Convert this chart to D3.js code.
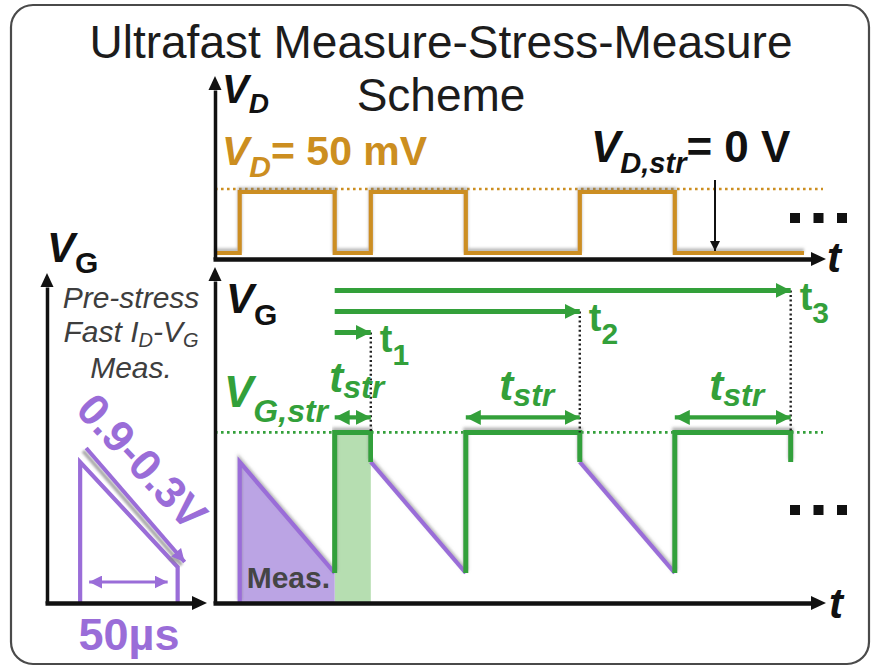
<!DOCTYPE html>
<html>
<head>
<meta charset="utf-8">
<script src="https://cdn.jsdelivr.net/npm/d3@7"></script>
<style>
  html, body { margin: 0; padding: 0; background: #fff; }
  svg { display: block; font-family: "Liberation Sans", Arial, Helvetica, sans-serif; }
</style>
</head>
<body>
<svg id="chart" width="875" height="669"></svg>
<script>
// Ultrafast measure-stress-measure (MSM) timing scheme.
// Time is in µs (schematic), drain bias in mV, gate bias in V.
const measWindows    = [[13, 63], [82, 132], [192, 242]];  // fast I_D-V_G sweeps
const stressWindows  = [[63, 82], [132, 192], [242, 303]]; // gate stress intervals
const stressLabels   = ["1", "2", "3"];                    // cumulative stress times t1..t3
const vdMeas         = 50;          // mV, drain bias while measuring
const vdStress       = 0;           // mV, drain bias while stressing
const vgSweep        = [0.9, 0.3];  // V, gate sweep start / end
const vgStress       = 1.06;        // V, stress level (schematic)
const preStressSweep = [17, 67];    // µs, pre-stress sweep (50 µs)
const timeDomain     = [0, 320];    // µs shown on the main time axes
const vdTraceEnd     = 310;         // µs, end of the drawn V_D trace

const C = {
  orange: "#cc8e20", green: "#33a03a", greenBand: "#b6deb1",
  purple: "#9a6dd8", purpleFill: "#bba4e4", ink: "#111", gray: "#3e3e3e"
};

const svg = d3.select("#chart");
const defs = svg.append("defs");

// soft shadow used on the traces and axes
const sh = defs.append("filter").attr("id", "soft").attr("x", "-5%").attr("y", "-30%").attr("width", "110%").attr("height", "160%");
sh.append("feDropShadow").attr("dx", 0).attr("dy", -2.5).attr("stdDeviation", 1.4)
  .attr("flood-color", "#777").attr("flood-opacity", 0.55);
const sh2 = defs.append("filter").attr("id", "side").attr("x", "-20%").attr("y", "-20%").attr("width", "140%").attr("height", "140%");
sh2.append("feDropShadow").attr("dx", -3).attr("dy", 3).attr("stdDeviation", 1)
  .attr("flood-color", "#888").attr("flood-opacity", 0.7);

function marker(id, color, len, half) {
  defs.append("marker").attr("id", id)
    .attr("markerUnits", "userSpaceOnUse")
    .attr("viewBox", `0 ${-half} ${len} ${2 * half}`)
    .attr("refX", len).attr("refY", 0)
    .attr("markerWidth", len).attr("markerHeight", 2 * half)
    .attr("orient", "auto-start-reverse")
    .append("path").attr("d", `M0,${-half}L${len},0L0,${half}Z`).attr("fill", color);
}
marker("arG", C.green, 15, 7.5);
marker("arP", C.purple, 13, 6.5);
marker("arK", C.ink, 10, 5);

// scales
const x  = d3.scaleLinear().domain(timeDomain).range([215, 823]);
const xL = d3.scaleLinear().domain([0, 80]).range([47, 203]);
const yD = d3.scaleLinear().domain([0, 50]).range([253, 192]);
const yG = d3.scaleLinear().domain([vgSweep[1], vgSweep[0]]).range([573, 462]);
const floorY = 603, topAxisY = 259;

// outer frame
svg.append("rect").attr("x", 11).attr("y", 5).attr("width", 858).attr("height", 659)
  .attr("rx", 22).attr("fill", "none").attr("stroke", "#4a4a4a").attr("stroke-width", 2.2);

// rich text helper: parts = [{t, sub, it}]
function rich(g, px, py, parts, o) {
  const t = g.append("text").attr("x", px).attr("y", py)
    .attr("font-size", o.size).attr("fill", o.fill)
    .attr("font-weight", o.weight || "bold")
    .attr("text-anchor", o.anchor || "start");
  if (o.italic) t.attr("font-style", "italic");
  let shift = 0;
  parts.forEach(p => {
    const ts = t.append("tspan").text(p.t);
    const target = p.sub ? o.subDy : 0;
    if (target - shift !== 0) ts.attr("dy", target - shift);
    shift = target;
    if (p.sub) ts.attr("font-size", o.subSize);
    if (p.it) ts.attr("font-style", "italic");
  });
  return t;
}

function head(g, tx, ty, angleDeg, len = 15, half = 7) {
  g.append("path")
    .attr("d", `M0,0L${-len},${-half}L${-len},${half}Z`)
    .attr("transform", `translate(${tx},${ty}) rotate(${angleDeg})`)
    .attr("fill", C.ink);
}

function axisLine(g, axis, transform, width) {
  g.append("g").attr("transform", transform)
    .call(axis.tickValues([]).tickSizeOuter(0))
    .call(s => s.select(".domain").attr("stroke", C.ink).attr("stroke-width", width));
}

// ---------- title ----------
svg.append("text").attr("x", 441).attr("y", 58).attr("text-anchor", "middle")
  .attr("font-size", 46).attr("fill", "#1c1c1c").text("Ultrafast Measure-Stress-Measure");
svg.append("text").attr("x", 441).attr("y", 111).attr("text-anchor", "middle")
  .attr("font-size", 46).attr("fill", "#1c1c1c").text("Scheme");

// ---------- drain panel ----------
const gD = svg.append("g");
gD.append("line").attr("x1", x(timeDomain[0])).attr("x2", x(timeDomain[1]))
  .attr("y1", yD(vdMeas) - 3).attr("y2", yD(vdMeas) - 3)
  .attr("stroke", C.orange).attr("stroke-width", 2.6).attr("stroke-dasharray", "2.6,3.4");

const vdPts = [[timeDomain[0], vdStress]];
measWindows.forEach(([s, e]) => vdPts.push([s, vdStress], [s, vdMeas], [e, vdMeas], [e, vdStress]));
vdPts.push([vdTraceEnd, vdStress]);
gD.append("path").attr("d", d3.line().x(d => x(d[0])).y(d => yD(d[1]))(vdPts))
  .attr("fill", "none").attr("stroke", C.orange).attr("stroke-width", 4.2)
  .attr("stroke-linejoin", "miter").attr("filter", "url(#soft)");

const axTopT = d3.scaleLinear().domain([0, 1]).range([213, 812]);
const axTopV = d3.scaleLinear().domain([0, 1]).range([topAxisY, 90]);
axisLine(gD, d3.axisBottom(axTopT), `translate(0,${topAxisY})`, 4.5);
head(gD, 826, topAxisY, 0);
axisLine(gD, d3.axisLeft(axTopV), `translate(215,0)`, 3.5);
head(gD, 215, 76, -90, 14, 6.5);

rich(gD, 222, 103, [{t: "V", it: true}, {t: "D", sub: true, it: true}],
  {size: 40, subSize: 28, subDy: 10, fill: C.ink});
rich(gD, 222, 165, [{t: "V", it: true}, {t: "D", sub: true, it: true}, {t: "= 50 mV"}],
  {size: 41, subSize: 30, subDy: 12, fill: C.orange});
rich(gD, 591, 162, [{t: "V", it: true}, {t: "D,str", sub: true, it: true}, {t: "= 0 V"}],
  {size: 44, subSize: 29, subDy: 11, fill: C.ink});
gD.append("line").attr("x1", 715).attr("x2", 715).attr("y1", 180).attr("y2", yD(vdStress) - 2)
  .attr("stroke", C.ink).attr("stroke-width", 2).attr("marker-end", "url(#arK)");
rich(gD, 827, 272, [{t: "t"}], {size: 42, fill: C.ink, italic: true});

// ellipsis marks after the last cycle
const dotsAt = [0, 1, 2];
gD.selectAll("rect.dot").data(dotsAt).join("rect")
  .attr("x", d => x(timeDomain[1]) - 33 + d * 23.5).attr("y", 213)
  .attr("width", 10).attr("height", 10).attr("fill", C.ink);

// ---------- gate panel ----------
const gG = svg.append("g");
const [s0, e0] = stressWindows[0];
gG.append("rect").attr("x", x(s0)).attr("y", yG(vgStress))
  .attr("width", x(e0) - x(s0)).attr("height", floorY - yG(vgStress)).attr("fill", C.greenBand);

const [m0s, m0e] = measWindows[0];
gG.append("path")
  .attr("d", d3.line()([[x(m0s), floorY], [x(m0s), yG(vgSweep[0])], [x(m0e), yG(vgSweep[1])], [x(m0e), floorY]]) + "Z")
  .attr("fill", C.purpleFill);

gG.append("line").attr("x1", x(timeDomain[0])).attr("x2", x(timeDomain[1]))
  .attr("y1", yG(vgStress)).attr("y2", yG(vgStress))
  .attr("stroke", C.green).attr("stroke-width", 2.6).attr("stroke-dasharray", "2.6,3.4");

// measurement ramps
measWindows.forEach(([s, e], i) => {
  const pts = i === 0
    ? [[x(s), floorY], [x(s), yG(vgSweep[0])], [x(e), yG(vgSweep[1])]]
    : [[x(s), yG(vgSweep[0])], [x(e), yG(vgSweep[1])]];
  gG.append("path").attr("d", d3.line()(pts)).attr("fill", "none")
    .attr("stroke", C.purple).attr("stroke-width", 4.2).attr("filter", "url(#soft)");
});
// stress pulses
stressWindows.forEach(([s, e]) => {
  const pts = [[x(s), yG(vgSweep[1])], [x(s), yG(vgStress)], [x(e), yG(vgStress)], [x(e), yG(vgSweep[0])]];
  gG.append("path").attr("d", d3.line()(pts)).attr("fill", "none")
    .attr("stroke", C.green).attr("stroke-width", 5).attr("stroke-linejoin", "miter")
    .attr("filter", "url(#soft)");
});

gG.append("text").attr("x", x(m0s) + 7).attr("y", 588).attr("font-size", 30)
  .attr("font-weight", "bold").attr("fill", "#454545").text("Meas.");

// cumulative stress-time arrows t1..t3
stressWindows.forEach(([s, e], i) => {
  const ay = yG(vgStress) - 100 - i * 21;
  gG.append("line").attr("x1", x(e)).attr("x2", x(e)).attr("y1", ay).attr("y2", yG(vgStress))
    .attr("stroke", "#222").attr("stroke-width", 2.4).attr("stroke-dasharray", "2,2.6");
  gG.append("line").attr("x1", x(s0)).attr("x2", x(e)).attr("y1", ay).attr("y2", ay)
    .attr("stroke", C.green).attr("stroke-width", 5).attr("marker-end", "url(#arG)");
  rich(gG, x(e) + 9, ay + 20, [{t: "t"}, {t: stressLabels[i], sub: true}],
    {size: 38, subSize: 30, subDy: 13, fill: C.green});
  // stress duration arrows
  const dy = yG(vgStress) - 15;
  gG.append("line").attr("x1", x(s)).attr("x2", x(e)).attr("y1", dy).attr("y2", dy)
    .attr("stroke", C.green).attr("stroke-width", 4.2)
    .attr("marker-start", "url(#arG)").attr("marker-end", "url(#arG)");
  rich(gG, (x(s) + x(e)) / 2 + 4, i === 0 ? 392 : 400, [{t: "t"}, {t: "str", sub: true}],
    {size: 42, subSize: 32, subDy: 6, fill: C.green, italic: true, anchor: "middle"});
});

rich(gG, 224, 407, [{t: "V"}, {t: "G,str", sub: true}],
  {size: 44, subSize: 32, subDy: 15, fill: C.green, italic: true});
rich(gG, 226, 313, [{t: "V", it: true}, {t: "G", sub: true}],
  {size: 42, subSize: 30, subDy: 12, fill: C.ink});

const axBotT = d3.scaleLinear().domain([0, 1]).range([213, 812]);
const axBotV = d3.scaleLinear().domain([0, 1]).range([floorY, 281]);
axisLine(gG, d3.axisBottom(axBotT), `translate(0,${floorY})`, 4.5);
head(gG, 826, floorY, 0);
axisLine(gG, d3.axisLeft(axBotV), `translate(215,0)`, 3.5);
head(gG, 215, 267, -90, 14, 6.5);
rich(gG, 829, 618, [{t: "t"}], {size: 42, fill: C.ink, italic: true});

gG.selectAll("rect.dot").data(dotsAt).join("rect")
  .attr("x", d => x(timeDomain[1]) - 33 + d * 23.5).attr("y", 505)
  .attr("width", 10).attr("height", 10).attr("fill", C.ink);

// ---------- pre-stress panel ----------
const gL = svg.append("g");
const [ps, pe] = preStressSweep;
gL.append("path")
  .attr("d", d3.line()([[xL(ps), floorY], [xL(ps), yG(vgSweep[0])], [xL(pe), yG(vgSweep[1]) - 6], [xL(pe), floorY]]))
  .attr("fill", "none").attr("stroke", C.purple).attr("stroke-width", 4.2);
gL.append("line")
  .attr("x1", xL(ps) + 6).attr("y1", yG(vgSweep[0]) - 14)
  .attr("x2", xL(pe) + 7).attr("y2", yG(vgSweep[1]) - 11)
  .attr("stroke", C.purple).attr("stroke-width", 4).attr("marker-end", "url(#arP)")
  .attr("filter", "url(#side)");
gL.append("line").attr("x1", xL(ps) + 9).attr("x2", xL(pe) - 10)
  .attr("y1", 582).attr("y2", 582)
  .attr("stroke", C.purple).attr("stroke-width", 3.2)
  .attr("marker-start", "url(#arP)").attr("marker-end", "url(#arP)");

gL.append("text").attr("transform", "translate(131,472) rotate(47)")
  .attr("text-anchor", "middle").attr("font-size", 44).attr("font-weight", "bold")
  .attr("fill", C.purple).text(`${vgSweep[0]}-${vgSweep[1]}V`);
gL.append("text").attr("x", 129).attr("y", 650).attr("text-anchor", "middle")
  .attr("font-size", 45).attr("font-weight", "bold").attr("fill", C.purple)
  .text(`${pe - ps}µs`);

const axLT = d3.scaleLinear().domain([0, 1]).range([45, 193]);
const axLV = d3.scaleLinear().domain([0, 1]).range([floorY, 287]);
axisLine(gL, d3.axisBottom(axLT), `translate(0,${floorY})`, 4.5);
head(gL, 207, floorY, 0);
axisLine(gL, d3.axisLeft(axLV), `translate(47,0)`, 3.5);
head(gL, 47, 273, -90, 14, 6.5);

rich(gL, 47, 262, [{t: "V", it: true}, {t: "G", sub: true}],
  {size: 42, subSize: 30, subDy: 11, fill: C.ink});
const noteOpts = {size: 30, subSize: 20, subDy: 5, fill: C.gray, weight: "normal", italic: true, anchor: "middle"};
rich(gL, 131, 308, [{t: "Pre-stress"}], noteOpts);
rich(gL, 131, 342, [{t: "Fast I"}, {t: "D", sub: true}, {t: "-V"}, {t: "G", sub: true}], noteOpts);
rich(gL, 131, 378, [{t: "Meas."}], noteOpts);
</script>
</body>
</html>
